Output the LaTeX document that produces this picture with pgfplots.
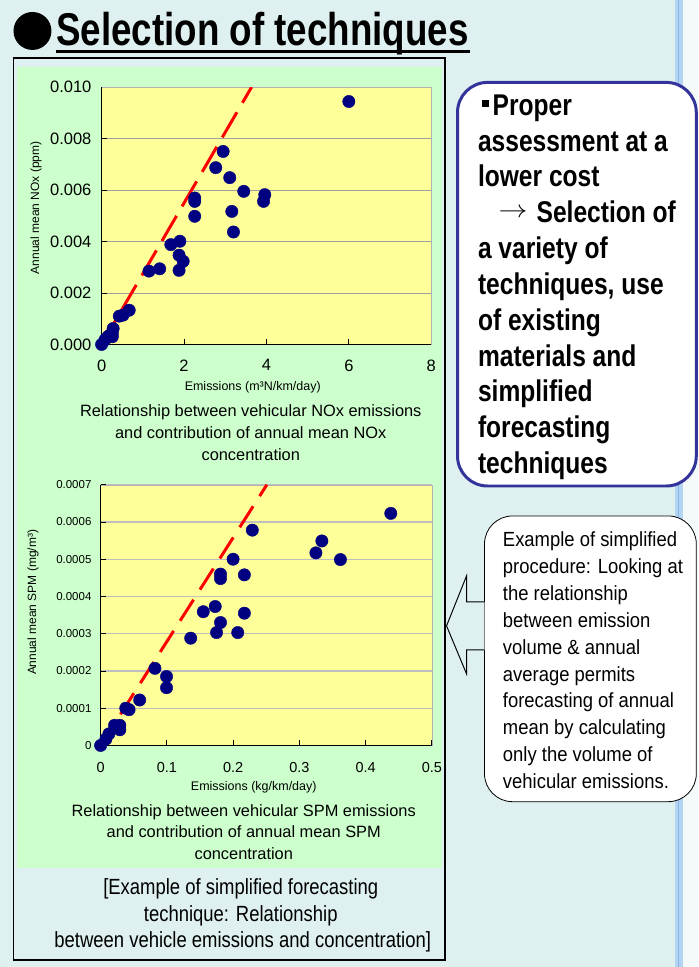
\documentclass[border=0pt]{standalone}
\usepackage{fontspec}
\setmainfont{Liberation Sans}
\newfontfamily\titlefont[FakeStretch=0.80]{Liberation Sans}
\newfontfamily\boxfont[FakeStretch=0.82]{Liberation Sans}
\newfontfamily\callfont[FakeStretch=0.90]{Liberation Sans}
\newfontfamily\capfont[FakeStretch=0.84]{Liberation Sans}
\usepackage{graphicx}
\usepackage{pgfplots}
\pgfplotsset{compat=1.18}

\definecolor{pagebg}{HTML}{DFF0F0}
\definecolor{stripblue}{HTML}{B4D4F4}
\definecolor{stripdark}{HTML}{8CB4E4}
\definecolor{stripwhite}{HTML}{F4FAFA}
\definecolor{panelgreen}{HTML}{CCFFCC}
\definecolor{plotyellow}{HTML}{FFFF99}
\definecolor{dotnavy}{HTML}{000080}
\definecolor{boxblue}{HTML}{333399}

\newcommand{\fs}[1]{\fontsize{#1}{#1}\selectfont}

\pgfplotsset{
  slideplot/.style={
    scale only axis,
    anchor=south west,
    axis background/.style={fill=plotyellow},
    axis line style={draw=gray!60},
    ymajorgrids,
    tick align=inside,
    xtick pos=bottom,
    ytick pos=left,
    major tick length=5pt,
    tick style={black, line width=0.8pt},
    scaled x ticks=false,
    scaled y ticks=false,
    clip mode=individual,
  },
  dots/.style={only marks, mark=*, mark size=6.2pt,
    mark options={fill=dotnavy, draw=dotnavy}},
}

\begin{document}
\begin{tikzpicture}[x=1pt,y=-1pt]
  % page background and right-hand strip
  \fill[pagebg] (0,0) rectangle (699,967);
  \fill[stripwhite] (684,0) rectangle (699,967);
  \fill[stripblue] (676,0) rectangle (684,967);
  \draw[stripdark, line width=1pt] (679.5,0) -- (679.5,967);

  % title
  \fill[black] (32.5,30.5) circle (19pt);
  \node[anchor=base west, inner sep=0pt] at (56,45)
    {\fs{46}\titlefont\bfseries Selection of techniques};
  \fill[black] (56,49.5) rectangle (470,52.5);

  % left panel
  \fill[panelgreen] (17,67) rectangle (442,868);
  \draw[black, line width=1.5pt] (13.5,57.5) rectangle (445.5,960.5);

  % NOx plot
  \begin{axis}[
    slideplot,
    at={(101.7pt,-344.3pt)},
    width=330pt, height=257.6pt,
    xmin=0, xmax=8, ymin=0, ymax=0.010,
    xtick={0,2,4,6,8},
    xticklabels={0,2,4,6,8},
    ytick={0,0.002,0.004,0.006,0.008,0.010},
    yticklabels={0.000,0.002,0.004,0.006,0.008,0.010},
    major grid style={draw=gray!75, line width=0.8pt},
    xticklabel style={font=\fs{16.5}, inner sep=0pt, yshift=-15pt},
    yticklabel style={font=\fs{16.5}, inner sep=0pt, xshift=-10pt},
  ]
    \draw[black, line width=1.2pt] (rel axis cs:0,1) -- (rel axis cs:0,0) -- (rel axis cs:1,0);
    \addplot[draw=red, line width=3pt, dash pattern=on 29pt off 11pt]
      coordinates {(0,0) (3.64,0.010)};
    \addplot[dots] coordinates {
      (0,0) (0.08,0.00017) (0.15,0.00030) (0.20,0.00036) (0.26,0.00043)
      (0.28,0.00062) (0.26,0.00030) (0.43,0.00110) (0.52,0.00114) (0.67,0.00133)
      (1.15,0.00285) (1.41,0.00294) (1.68,0.00388) (1.90,0.00401) (1.88,0.00347)
      (1.98,0.00323) (1.88,0.00288) (2.26,0.00569) (2.26,0.00556) (2.26,0.00498)
      (2.77,0.00687) (2.95,0.00750) (3.11,0.00648) (3.16,0.00517) (3.20,0.00437)
      (3.45,0.00595) (3.96,0.00582) (3.93,0.00556) (6.00,0.00944)
    };
  \end{axis}
  \node[rotate=90, inner sep=0pt, font=\fs{12}] at (36,207.5) {Annual mean NOx (ppm)};
  \node[anchor=base, inner sep=0pt, font=\fs{12.5}] at (253,390) {Emissions (m³N/km/day)};
  \node[anchor=base, inner sep=0pt, font=\fs{16.4}] at (251,416.7) {Relationship between vehicular NOx emissions};
  \node[anchor=base, inner sep=0pt, font=\fs{16.4}] at (251,438) {and contribution of annual mean NOx};
  \node[anchor=base, inner sep=0pt, font=\fs{16.4}] at (251,460) {concentration};

  % SPM plot
  \begin{axis}[
    slideplot,
    at={(100.7pt,-745.7pt)},
    width=331.6pt, height=261pt,
    xmin=0, xmax=0.5, ymin=0, ymax=0.0007,
    xtick={0,0.1,0.2,0.3,0.4,0.5},
    xticklabels={0,0.1,0.2,0.3,0.4,0.5},
    ytick={0,0.0001,0.0002,0.0003,0.0004,0.0005,0.0006,0.0007},
    yticklabels={0,0.0001,0.0002,0.0003,0.0004,0.0005,0.0006,0.0007},
    major grid style={draw=gray!50, line width=1.2pt},
    xticklabel style={font=\fs{14.5}, inner sep=0pt, yshift=-16.3pt},
    yticklabel style={font=\fs{11.5}, inner sep=0pt, xshift=-9pt},
  ]
    \draw[black, line width=1.2pt] (rel axis cs:0,1) -- (rel axis cs:0,0) -- (rel axis cs:1,0);
    \addplot[draw=red, line width=3pt, dash pattern=on 25pt off 12pt]
      coordinates {(0,0) (0.251,0.0007)};
    \addplot[dots] coordinates {
      (0,0) (0.008,0.000017) (0.0125,0.000031) (0.021,0.000054) (0.029,0.000054)
      (0.029,0.000042) (0.038,0.000100) (0.043,0.000096) (0.059,0.000122)
      (0.082,0.000207) (0.0995,0.000185) (0.0995,0.000155) (0.136,0.000288)
      (0.155,0.000359) (0.173,0.000373) (0.175,0.000303) (0.181,0.000330)
      (0.181,0.000448) (0.181,0.000460) (0.200,0.000500) (0.207,0.000303)
      (0.217,0.000355) (0.217,0.000458) (0.229,0.000578) (0.325,0.000517)
      (0.334,0.000549) (0.362,0.000499) (0.438,0.000623)
    };
  \end{axis}
  \node[rotate=90, inner sep=0pt, font=\fs{12}] at (33,602.5) {Annual mean SPM (mg/m³)};
  \node[anchor=base, inner sep=0pt, font=\fs{12.5}] at (254,791) {Emissions (kg/km/day)};
  \node[anchor=base, inner sep=0pt, font=\fs{16.4}] at (244,816.7) {Relationship between vehicular SPM emissions};
  \node[anchor=base, inner sep=0pt, font=\fs{16.4}] at (244,838) {and contribution of annual mean SPM};
  \node[anchor=base, inner sep=0pt, font=\fs{16.4}] at (244,860) {concentration};

  % bottom caption
  \node[anchor=base, inner sep=0pt, font=\fs{22}\capfont] at (241,895) {[Example of simplified forecasting};
  \node[anchor=base, inner sep=0pt, font=\fs{22}\capfont] at (241,921.5) {technique: Relationship};
  \node[anchor=base, inner sep=0pt, font=\fs{22}\capfont] at (243,948) {between vehicle emissions and concentration]};

  % upper right box
  \draw[boxblue, line width=3pt, fill=white, rounded corners=30pt] (458,82) rectangle (697,486);
  \fill[black] (482,99.5) rectangle (489.5,106.5);
  \node[anchor=base west, inner sep=0pt, font=\fs{30}\boxfont\bfseries] at (493,115) {Proper};
  \node[anchor=base west, inner sep=0pt, font=\fs{30}\boxfont\bfseries] at (478.3,150.7) {assessment at a};
  \node[anchor=base west, inner sep=0pt, font=\fs{30}\boxfont\bfseries] at (478.3,186.5) {lower cost};
  \node[anchor=base west, inner sep=0pt] at (499,217.5) {\resizebox{29pt}{9pt}{$\rightarrow$}};
  \node[anchor=base west, inner sep=0pt, font=\fs{30}\boxfont\bfseries] at (537,222.3) {Selection of};
  \node[anchor=base west, inner sep=0pt, font=\fs{30}\boxfont\bfseries] at (478.3,258) {a variety of};
  \node[anchor=base west, inner sep=0pt, font=\fs{30}\boxfont\bfseries] at (478.3,294) {techniques, use};
  \node[anchor=base west, inner sep=0pt, font=\fs{30}\boxfont\bfseries] at (478.3,330) {of existing};
  \node[anchor=base west, inner sep=0pt, font=\fs{30}\boxfont\bfseries] at (478.3,366) {materials and};
  \node[anchor=base west, inner sep=0pt, font=\fs{30}\boxfont\bfseries] at (478.3,401.7) {simplified};
  \node[anchor=base west, inner sep=0pt, font=\fs{30}\boxfont\bfseries] at (478.3,437.7) {forecasting};
  \node[anchor=base west, inner sep=0pt, font=\fs{30}\boxfont\bfseries] at (478.3,473.3) {techniques};

  % lower right callout with arrow
  \draw[black, line width=0.8pt, fill=white, rounded corners=28pt] (485,516) rectangle (697,802);
  \draw[black, line width=1pt, fill=pagebg]
    (485,602) -- (467,602) -- (467,576) -- (447,626) -- (467,674) -- (467,650) -- (485,650);
  \draw[gray, line width=0.8pt] (485,602) -- (485,650);
  \foreach \txt [count=\i from 0] in {
      Example of simplified,
      procedure: Looking at,
      the relationship,
      between emission,
      volume \& annual,
      average permits,
      forecasting of annual,
      mean by calculating,
      only the volume of,
      vehicular emissions.} {
    \node[anchor=base west, inner sep=0pt, font=\fs{20.5}\callfont] at (503.3,546.7+26.9*\i) {\txt};
  }
\end{tikzpicture}
\end{document}
